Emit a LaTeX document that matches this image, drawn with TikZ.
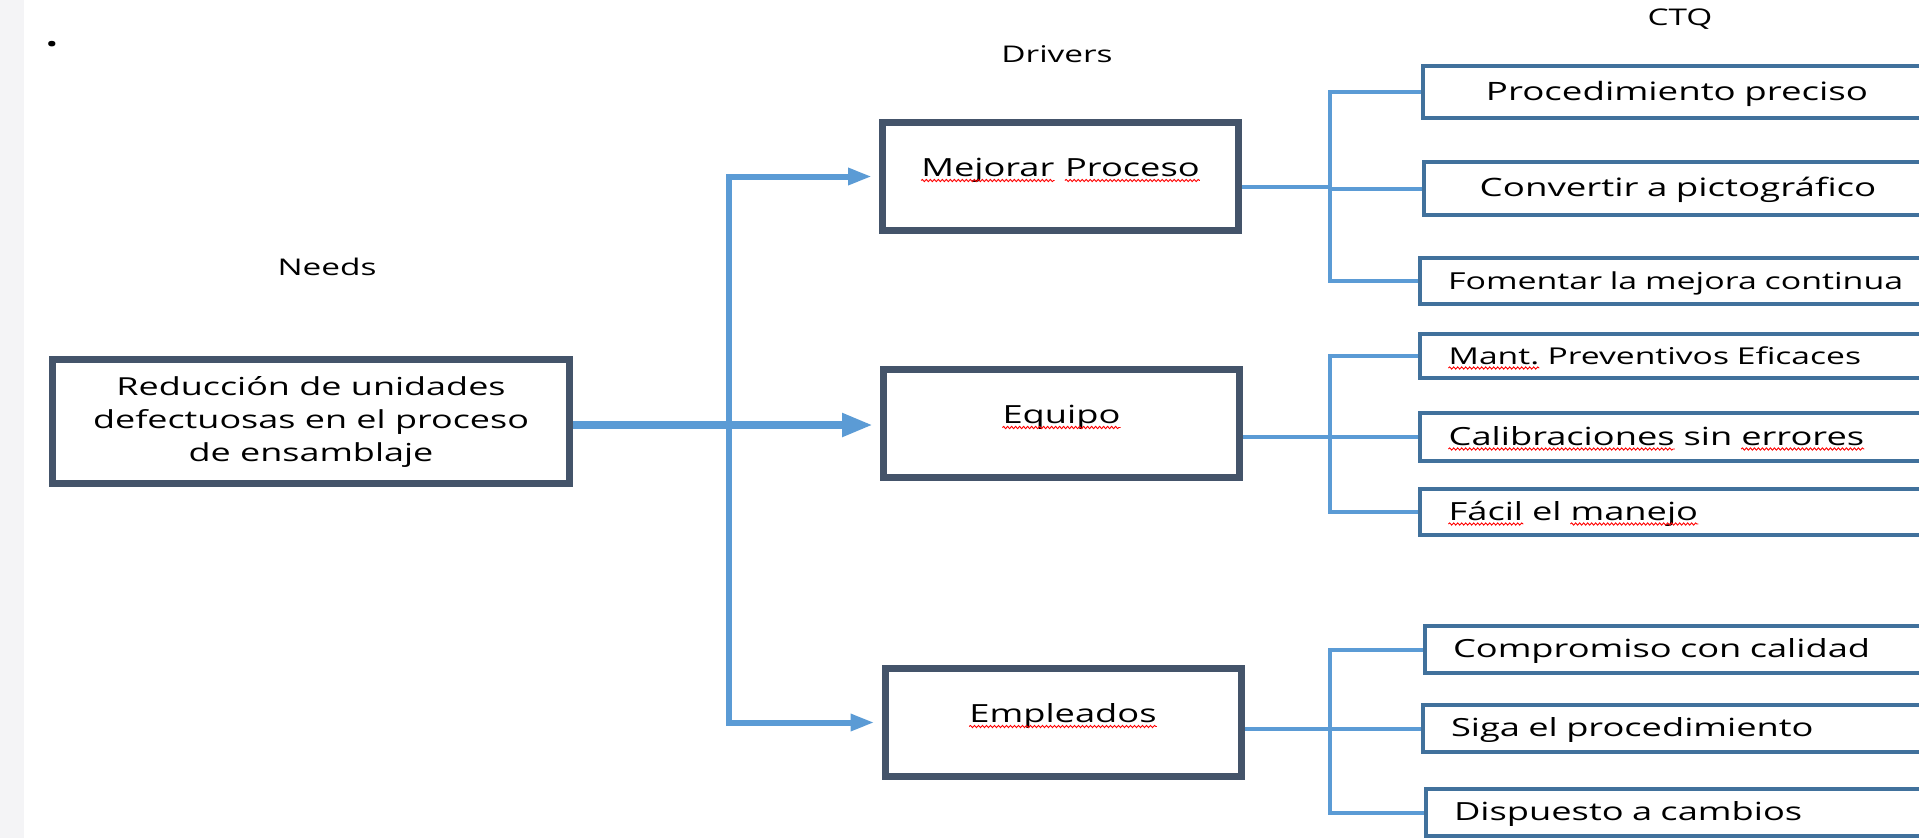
\documentclass[tikz,border=0pt]{standalone}
\usepackage{fontspec}
\setmainfont{Open Sans}[FakeStretch=1.45]
\usetikzlibrary{arrows.meta,decorations.pathmorphing}

\definecolor{boxslate}{HTML}{44546A}
\definecolor{linkblue}{HTML}{5B9BD5}
\definecolor{ctqblue}{HTML}{41719C}
\definecolor{stripgray}{HTML}{F4F4F6}

% red spell-check wave under a word
\newcommand\spellwave[1]{\tikz[baseline=(w.base)]{\node[inner sep=0pt, minimum size=0pt, text width=,
    text height=, text depth=, anchor=center, draw=none] (w) {#1};
  \draw[red, line width=0.9bp, decorate, decoration={snake, amplitude=1.1bp, segment length=4bp}]
    ([yshift=-4bp]w.base west) -- ([yshift=-4bp]w.base east);}}

\begin{document}
\begin{tikzpicture}[x=1bp, y=-1bp,
    needbox/.style={draw=boxslate, line width=7bp, minimum width=517bp, minimum height=124bp,
      align=center, font=\fontsize{24.8bp}{33bp}\selectfont},
    drvbox/.style={draw=boxslate, line width=7bp, minimum width=356bp, minimum height=108bp,
      text height=17bp, text depth=17bp, font=\fontsize{25bp}{30bp}\selectfont},
    ctqbox/.style={draw=ctqblue, line width=4bp, anchor=west, inner xsep=28bp, text width=490bp,
      align=left, text height=19bp, text depth=3bp, font=\fontsize{25bp}{30bp}\selectfont},
    ctqmid/.style={ctqbox, text width=452bp, align=center, font=\fontsize{25.3bp}{30bp}\selectfont},
    title/.style={anchor=base, font=\fontsize{23bp}{28bp}\selectfont},
    link/.style={draw=linkblue, line width=6bp, -{Triangle[length=24bp, width=16bp]}, shorten >=7bp},
    mainlink/.style={draw=linkblue, line width=8bp, -{Triangle[length=31bp, width=22bp]}, shorten >=7bp},
    ctqlink/.style={draw=linkblue, line width=4bp}]

    \useasboundingbox (0, 0) rectangle (1919, 838);
    \clip (0, 0) rectangle (1919, 838);

    % Draw the grey strip on the left
    \fill[stripgray] (0, 0) rectangle (24, 838);

    % Draw the column titles
    \node[title] (bullet) at (52, 52) {•};
    \node[title] (needs) at (327, 275) {Needs};
    \node[title] (drivers) at (1057, 62) {Drivers};
    \node[title] (ctq) at (1680, 25) {CTQ};

    % Draw the need box
    \node[needbox] (need) at (311, 421.5) {Reducción de unidades\\defectuosas en el proceso\\de ensamblaje};

    % Draw the driver boxes
    \node[drvbox] (drv1) at (1060.5, 176.5) {\spellwave{Mejorar} \spellwave{Proceso}};
    \node[drvbox] (drv2) at (1061.5, 423.5) {\spellwave{Equipo}};
    \node[drvbox] (drv3) at (1063, 722.5) {\spellwave{Empleados}};

    % Draw the CTQ boxes
    \node[ctqmid, minimum height=52bp] (ctq1) at (1421, 92) {Procedimiento preciso};
    \node[ctqmid, minimum height=53bp] (ctq2) at (1422, 188.5) {Convertir a pictográfico};
    \node[ctqbox, minimum height=46bp, font=\fontsize{23.4bp}{28bp}\selectfont] (ctq3) at (1418, 281) {Fomentar la mejora continua};
    \node[ctqbox, minimum height=44bp, font=\fontsize{23.2bp}{28bp}\selectfont] (ctq4) at (1418, 356) {\spellwave{Mant.} Preventivos Eficaces};
    \node[ctqbox, minimum height=48bp] (ctq5) at (1418, 437) {\spellwave{Calibraciones} sin \spellwave{errores}};
    \node[ctqbox, minimum height=46bp] (ctq6) at (1418, 512) {\spellwave{Fácil} el \spellwave{manejo}};
    \node[ctqbox, minimum height=47bp] (ctq7) at (1423, 649.5) {Compromiso con calidad};
    \node[ctqbox, minimum height=47bp] (ctq8) at (1421, 728.5) {Siga el procedimiento};
    \node[ctqbox, minimum height=47bp] (ctq9) at (1424, 812.5) {Dispuesto a cambios};

    % Draw the arrows from the need to the drivers
    \coordinate (split) at (729, 425);
    \draw[mainlink] (need.east |- split) -- (drv2.west |- split);
    \draw[link] (split) |- (drv1.west);
    \draw[link] (split) |- (drv3.west);

    % Draw the brackets from the drivers to the CTQs
    \coordinate (j1) at (1330, 187);
    \coordinate (j2) at (1330, 437);
    \coordinate (j3) at (1330, 729);
    \draw[ctqlink] (drv1.east |- j1) -- (j1);
    \draw[ctqlink] (drv2.east |- j2) -- (j2);
    \draw[ctqlink] (drv3.east |- j3) -- (j3);
    \foreach \c in {ctq1, ctq2, ctq3} \draw[ctqlink] (j1) |- (\c.west);
    \foreach \c in {ctq4, ctq5, ctq6} \draw[ctqlink] (j2) |- (\c.west);
    \foreach \c in {ctq7, ctq8, ctq9} \draw[ctqlink] (j3) |- (\c.west);

\end{tikzpicture}
\end{document}
